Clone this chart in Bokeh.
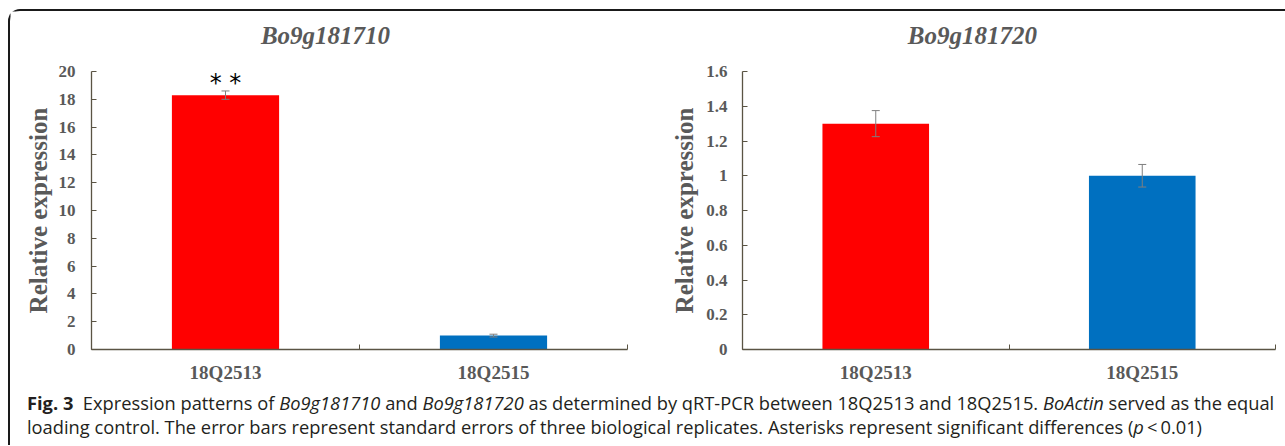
from bokeh.plotting import figure
from bokeh.models import (ColumnDataSource, Range1d, FixedTicker, Whisker, TeeHead, Div)
from bokeh.layouts import row, column
from bokeh.core.properties import value
from bokeh.embed import file_html
from bokeh.resources import INLINE

# ---------------- data ----------------
genes = ["Bo9g181710", "Bo9g181720"]
lines = ["18Q2513", "18Q2515"]
bar_colors = ["#FF0000", "#0070C0"]

expr_1710 = [18.3, 1.0]
err_1710 = [0.3, 0.1]
sig_1710 = ["* *", ""]

expr_1720 = [1.30, 1.00]
err_1720 = [0.075, 0.065]
sig_1720 = ["", ""]

y1_ticks = [0, 2, 4, 6, 8, 10, 12, 14, 16, 18, 20]
y1_labels = ["0", "2", "4", "6", "8", "10", "12", "14", "16", "18", "20"]
y2_ticks = [0, 0.2, 0.4, 0.6, 0.8, 1.0, 1.2, 1.4, 1.6]
y2_labels = ["0", "0.2", "0.4", "0.6", "0.8", "1", "1.2", "1.4", "1.6"]

TXT = "#595959"
AX = "#5a5444"
SERIF = "Liberation Serif"


def make_title(title, width, title_x):
    t = figure(width=width, height=50, output_backend="svg", toolbar_location=None,
               x_range=Range1d(0, 1), y_range=Range1d(0, 1),
               x_axis_type=None, y_axis_type=None, min_border=0)
    t.outline_line_color = None
    t.xgrid.grid_line_color = None
    t.ygrid.grid_line_color = None
    t.text(x=[title_x], y=[0.52], text=[title], text_align="center",
           text_baseline="middle", text_font=value(SERIF), text_font_style="bold italic",
           text_font_size="25px", text_color=TXT)
    return t


def make_panel(vals, errs, sigs, yticks, ylabels, ymax, width,
               bl, br, label_standoff, axis_label_standoff):
    x = [i + 0.5 for i in range(len(lines))]
    src = ColumnDataSource(dict(
        x=x, top=vals, lo=[v - e for v, e in zip(vals, errs)],
        hi=[v + e for v, e in zip(vals, errs)], color=bar_colors,
        sig=sigs, name=lines))
    p = figure(width=width, height=324, output_backend="svg", toolbar_location=None,
               x_range=Range1d(0, len(lines)), y_range=Range1d(0, ymax),
               min_border_left=bl, min_border_right=br, min_border_top=10,
               min_border_bottom=36)
    p.outline_line_color = None
    p.xgrid.grid_line_color = None
    p.ygrid.grid_line_color = None
    p.background_fill_color = "white"
    p.border_fill_color = "white"

    p.vbar(x="x", top="top", width=0.40, fill_color="color", line_color=None, source=src)
    w = Whisker(base="x", lower="lo", upper="hi", source=src,
                line_color="#7f7f7f", line_width=1, level="annotation",
                upper_head=TeeHead(size=8, line_color="#7f7f7f", line_width=1),
                lower_head=TeeHead(size=8, line_color="#7f7f7f", line_width=1))
    p.add_layout(w)
    p.text(x="x", y="hi", text="sig", source=src, text_align="center",
           text_baseline="alphabetic", y_offset=-8, text_font=value("DejaVu Sans"),
           text_font_size="24px", text_color="black")

    # y axis
    ya = p.yaxis[0]
    ya.ticker = FixedTicker(ticks=yticks)
    ya.major_label_overrides = {t: l for t, l in zip(yticks, ylabels)}
    ya.minor_tick_line_color = None
    ya.major_tick_in = 5
    ya.major_tick_out = 0
    ya.axis_line_color = AX
    ya.major_tick_line_color = AX
    ya.axis_line_width = 1.3
    ya.major_label_text_font = SERIF
    ya.major_label_text_font_style = "bold"
    ya.major_label_text_font_size = "17px"
    ya.major_label_text_color = TXT
    ya.major_label_standoff = label_standoff
    ya.axis_label = "Relative expression"
    ya.axis_label_text_font = SERIF
    ya.axis_label_text_font_style = "bold"
    ya.axis_label_text_font_size = "25px"
    ya.axis_label_text_color = TXT
    ya.axis_label_standoff = axis_label_standoff

    # x axis
    xa = p.xaxis[0]
    xa.ticker = FixedTicker(ticks=x, minor_ticks=list(range(len(lines) + 1)))
    xa.major_label_overrides = {xi: n for xi, n in zip(x, lines)}
    xa.major_tick_in = 0
    xa.major_tick_out = 0
    xa.minor_tick_in = 5
    xa.minor_tick_out = 0
    xa.minor_tick_line_color = AX
    xa.axis_line_color = AX
    xa.axis_line_width = 1.3
    xa.major_label_text_font = SERIF
    xa.major_label_text_font_style = "bold"
    xa.major_label_text_font_size = "19px"
    xa.major_label_text_color = TXT
    xa.major_label_standoff = 12
    return p


t1 = make_title(genes[0], 630, 0.5)
t2 = make_title(genes[1], 643, 0.516)
p1 = make_panel(expr_1710, err_1710, sig_1710, y1_ticks, y1_labels, 20,
                630, 81, 13, 16, 4)
p2 = make_panel(expr_1720, err_1720, sig_1720, y2_ticks, y2_labels, 1.6,
                643, 102, 8, 15, 5)

caption_html = (
    '<div style="font-family: \'Open Sans\', sans-serif; font-size: 18.3px; line-height: 24px; '
    'color: #231f20; white-space: nowrap; padding: 0 0 0 12px; position: relative; top: 1px;">'
    '<b>Fig. 3</b>&nbsp; Expression patterns of <i>Bo9g181710</i> and <i>Bo9g181720</i> '
    'as determined by qRT-PCR between 18Q2513 and 18Q2515. <i>BoActin</i> served as the equal<br>'
    'loading control. The error bars represent standard errors of three biological replicates. '
    'Asterisks represent significant differences (<i>p</i>&thinsp;&lt;&thinsp;0.01)'
    '</div>'
)
cap = Div(text=caption_html, width=1273, height=50)

layout = column(row(t1, t2), row(p1, p2), cap, margin=(9, 0, 0, 8),
                styles={"border-top": "2px solid #1a1a1a",
                        "border-left": "2px solid #1a1a1a",
                        "border-top-left-radius": "12px",
                        "background": "white"})

open("out.html", "w").write(file_html(layout, INLINE))
